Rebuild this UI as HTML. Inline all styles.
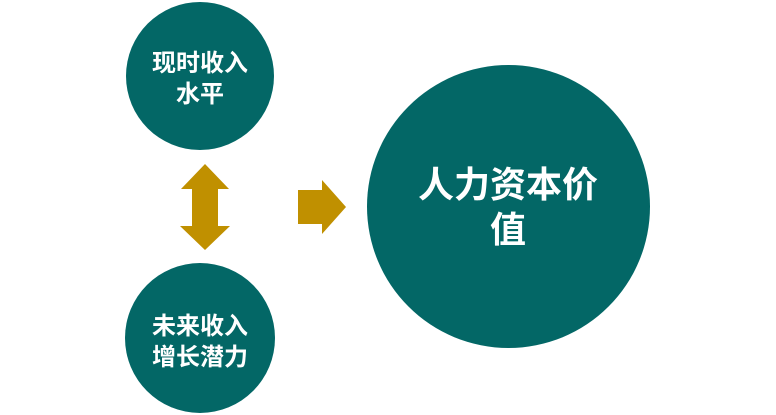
<!DOCTYPE html>
<html><head><meta charset="utf-8"><style>
html,body{margin:0;padding:0;background:#fff;}
body{width:776px;height:415px;position:relative;overflow:hidden;font-family:"Liberation Sans","Noto Sans CJK SC",sans-serif;}
svg{position:absolute;left:0;top:0;}
</style></head><body>
<svg width="776" height="415" viewBox="0 0 776 415">
<circle cx="200" cy="76" r="74" fill="#036766"/>
<circle cx="200" cy="338" r="75" fill="#036766"/>
<circle cx="508.5" cy="206.5" r="141.5" fill="#036766"/>
<polygon points="205,164 229,189 218,189 218,226 230,226 205,250 180,226 192,226 192,189 181,189" fill="#C09000"/>
<polygon points="298,190 322,190 322,180 346,207 322,234 322,224 298,224" fill="#C09000"/>
<g fill="#fff" font-family="'Liberation Sans','Noto Sans CJK SC',sans-serif" font-weight="bold" text-anchor="middle">
<text x="200" y="71" font-size="24">现时收入</text>
<text x="200" y="102" font-size="24">水平</text>
<text x="200" y="334" font-size="24">未来收入</text>
<text x="200" y="365" font-size="24">增长潜力</text>
<text x="508" y="197" font-size="36">人力资本价</text>
<text x="508" y="242" font-size="36">值</text>
</g>
</svg>
</body></html>
